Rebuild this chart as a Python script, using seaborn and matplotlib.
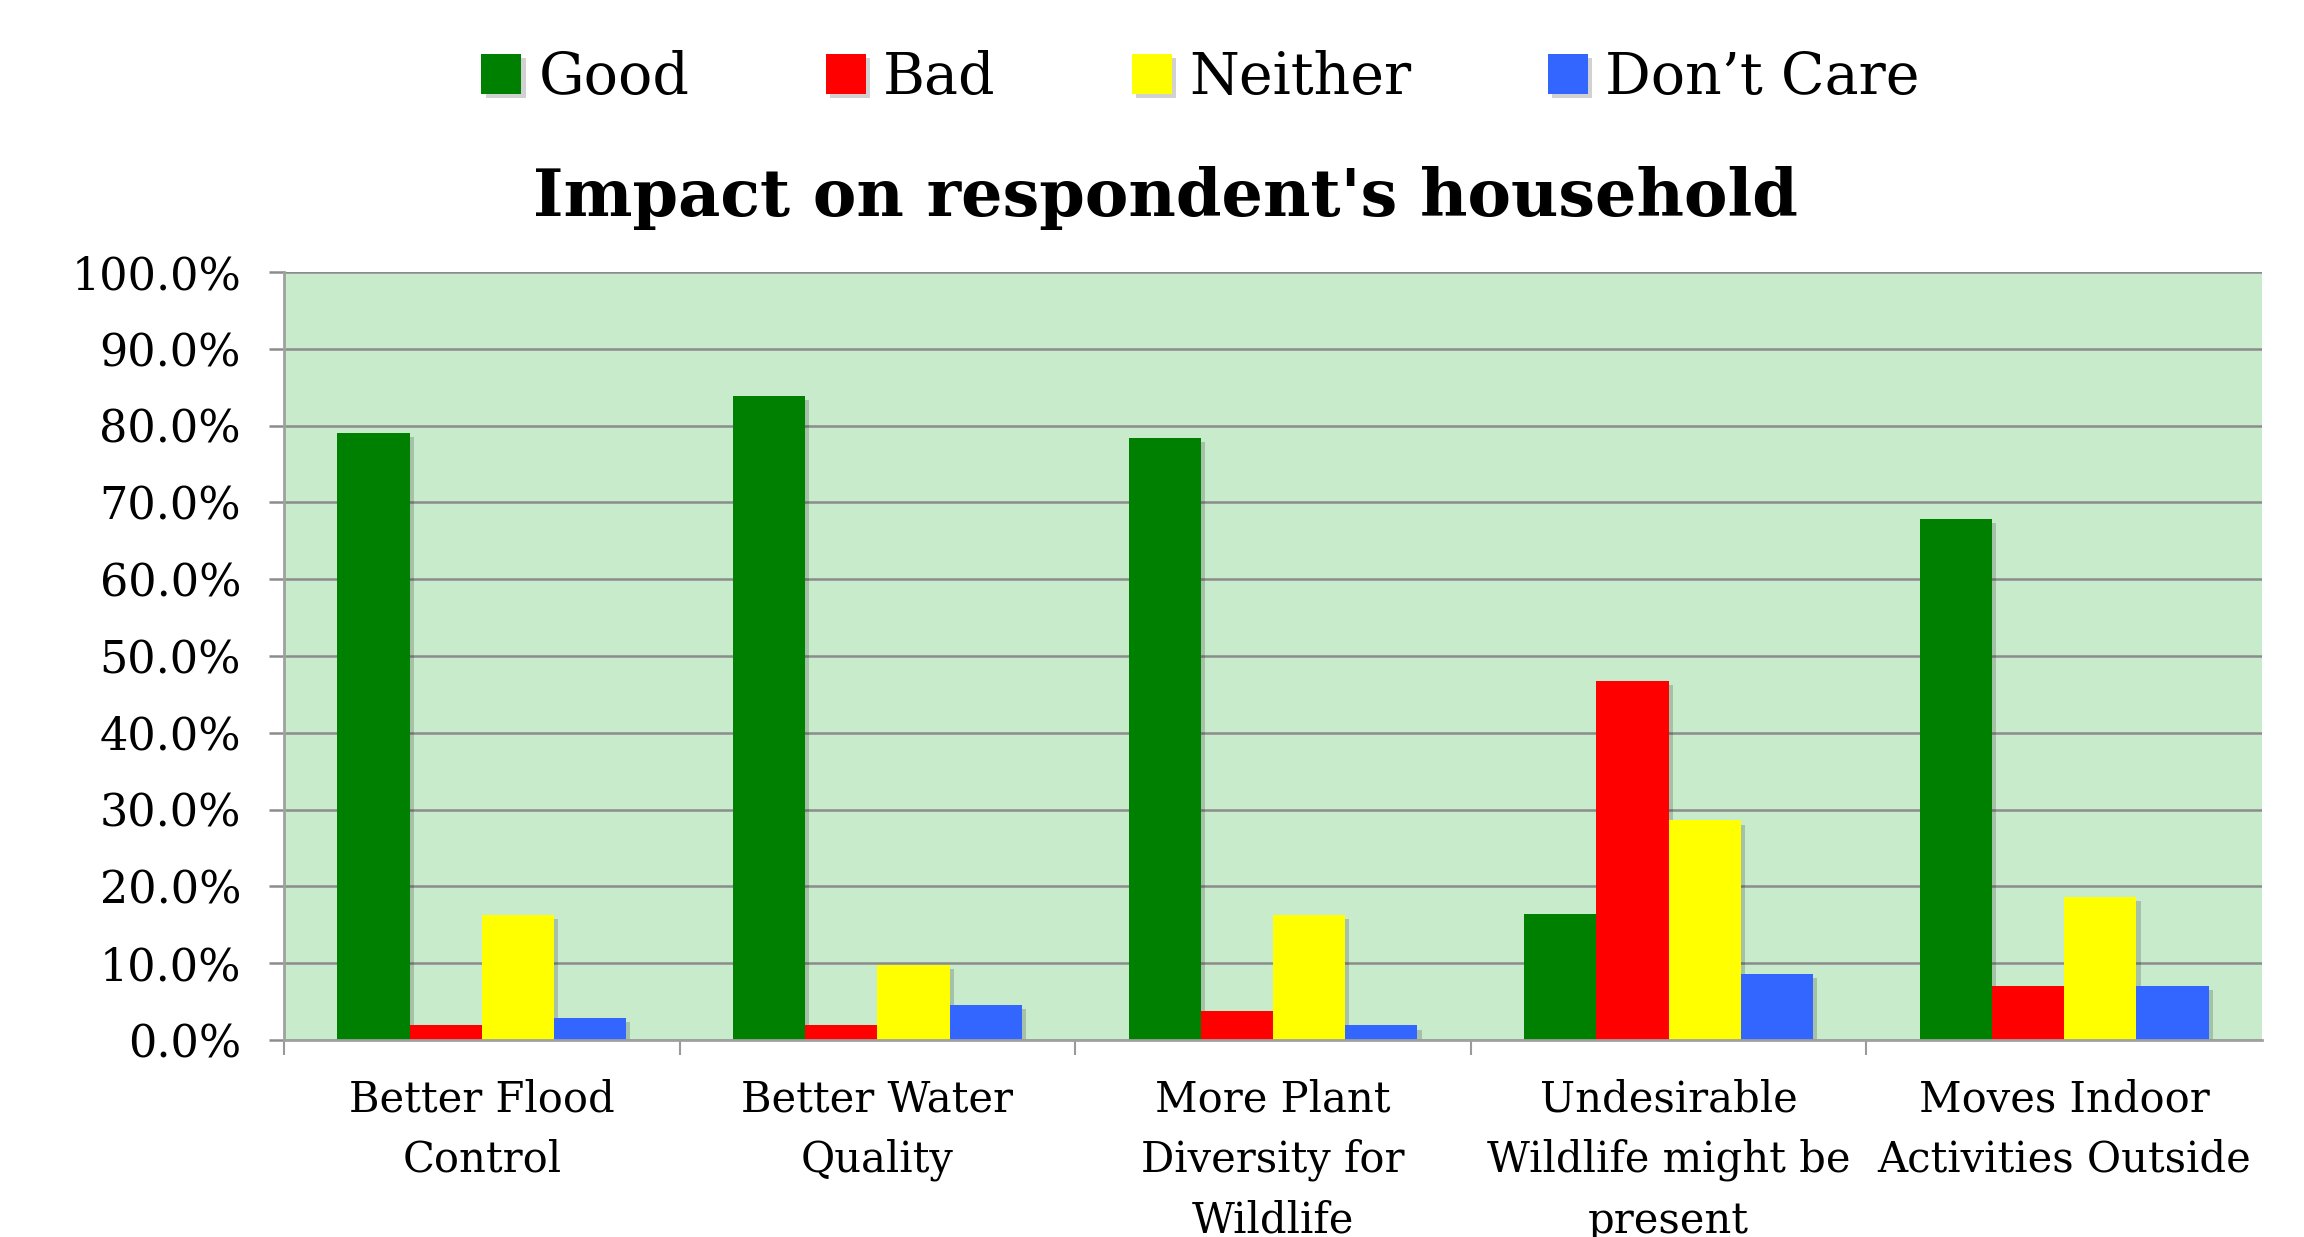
import numpy as np
import pandas as pd
import seaborn as sns
import matplotlib.pyplot as plt
import matplotlib.patheffects as pe

categories = ["Better Flood\nControl", "Better Water\nQuality", "More Plant\nDiversity for\nWildlife",
              "Undesirable\nWildlife might be\npresent", "Moves Indoor\nActivities Outside"]
responses = ["Good", "Bad", "Neither", "Don\u2019t Care"]
good = [79.1, 83.9, 78.4, 16.4, 67.9]
bad = [1.9, 1.9, 3.8, 46.8, 7.0]
neither = [16.3, 9.8, 16.3, 28.6, 18.6]
dont_care = [2.9, 4.6, 1.9, 8.6, 7.0]
colors = ["#008000", "#FF0000", "#FFFF00", "#3366FF"]

df = pd.DataFrame({
    "impact": categories * 4,
    "response": np.repeat(responses, len(categories)),
    "pct": good + bad + neither + dont_care,
})

sns.set_theme(style="white")
plt.rcParams['font.family'] = ['DejaVu Serif']
plt.rcParams['text.color'] = 'black'
plt.rcParams['xtick.labelcolor'] = 'black'
plt.rcParams['ytick.labelcolor'] = 'black'

fig = plt.figure(figsize=(23.04, 12.37), dpi=100)
ax = fig.add_axes([0.1233, 0.1593, 0.8585, 0.6207])

sns.barplot(data=df, x="impact", y="pct", hue="response", hue_order=responses,
            palette=colors, width=0.73, saturation=1, linewidth=0, ax=ax)

# excel-ish drop shadow on bars
for p in ax.patches:
    p.set_path_effects([pe.SimplePatchShadow(offset=(3, -3), shadow_rgbFace="k", alpha=0.2), pe.Normal()])

ax.set_facecolor("#C8EBCB")
ax.set_ylim(0, 100)
ax.set_xlim(-0.5, len(categories) - 0.5)
ax.set_yticks(np.arange(0, 101, 10))
ax.set_yticklabels([f"{v:.1f}%" for v in np.arange(0, 101, 10)], fontsize=32)
ax.yaxis.grid(True, color="#8C8C8C", lw=1.8)
ax.set_axisbelow(True)
ax.set_xlabel("")
ax.set_ylabel("")

ax.tick_params(axis="y", left=True, length=11, width=1.8, color="#8C8C8C", pad=20)
ax.tick_params(axis="x", which="major", length=0, pad=28, labelsize=30)
for lbl in ax.get_xticklabels():
    lbl.set_linespacing(1.55)
ax.set_xticks(np.arange(-0.5, len(categories) - 1), minor=True)
ax.tick_params(axis="x", which="minor", bottom=True, length=11, width=1.5, color="#9A9A9A")

for s in ["top", "right"]:
    ax.spines[s].set_visible(False)
for s in ["left", "bottom"]:
    ax.spines[s].set_color("#A0A0A0")
    ax.spines[s].set_linewidth(2)

handles, labels = ax.get_legend_handles_labels()
ax.get_legend().remove()
fig.legend(handles, labels, loc="center", bbox_to_anchor=(0.521, 0.937), ncol=4, frameon=False,
           fontsize=41, handlelength=0.7, handleheight=0.7, handletextpad=0.3, columnspacing=2.4)

fig.text(0.506, 0.825, "Impact on respondent's household", ha="center", va="baseline",
         fontsize=47, fontweight="bold")

fig.savefig("out.png", dpi=100)
